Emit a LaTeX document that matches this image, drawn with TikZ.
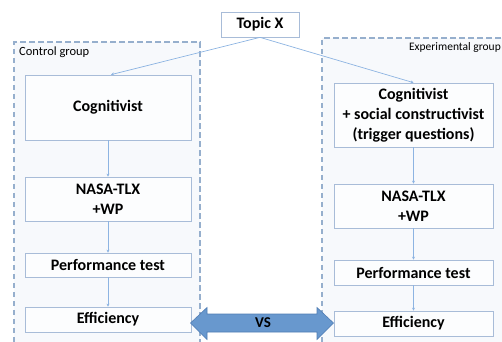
\documentclass[tikz,border=0pt]{standalone}
\usepackage{fontspec}
\setmainfont{Carlito}
\usetikzlibrary{arrows.meta}
\definecolor{grpline}{RGB}{150,175,205}
\definecolor{grpfill}{RGB}{247,249,252}
\definecolor{boxline}{RGB}{168,188,216}
\definecolor{conn}{RGB}{141,180,226}
\definecolor{arrfill}{RGB}{104,152,206}
\definecolor{arrline}{RGB}{80,125,180}
\tikzset{
  stage/.style={draw=boxline, fill=white, line width=0.7pt, inner sep=0pt, align=center,
    font=\bfseries\fontsize{16}{20}\selectfont},
  grp/.style={draw=grpline, fill=grpfill, line width=1.3pt, dash pattern=on 5.5pt off 3.5pt},
  link/.style={draw=conn, line width=0.7pt, -{Stealth[length=3pt,width=3pt]}},
  grplabel/.style={inner sep=0pt}
}
\begin{document}
\begin{tikzpicture}[x=1pt,y=-1pt]
\useasboundingbox (0,0) rectangle (502,341);
\clip (0,0) rectangle (502,341);
\fill[white] (0,0) rectangle (502,341);
% groups
\draw[grp] (14,360) -- (14,42) -- (200,42) -- (200,360);
\draw[grp] (322,360) -- (322,38) -- (520,38) -- (520,360);
\node[grplabel, anchor=west, font=\fontsize{12.5}{14}\selectfont] (cg) at (19,52) {Control group};
\node[grplabel, anchor=east, font=\fontsize{11.5}{13}\selectfont] (eg) at (501,47.5) {Experimental group};
% nodes
\node[stage, minimum width=78pt, minimum height=25pt] (topic) at (260,24.5) {Topic X};
\node[stage, fill=grpfill!40!white, minimum width=166pt, minimum height=65pt] (cogL) at (108,107.5) {Cognitivist};
\node[stage, fill=grpfill!40!white, minimum width=166pt, minimum height=44pt] (nasaL) at (108,199) {NASA-TLX\\+WP};
\node[stage, fill=grpfill!40!white, minimum width=166pt, minimum height=24pt] (perfL) at (108,265) {Performance test};
\node[stage, fill=grpfill!40!white, minimum width=166pt, minimum height=25pt] (effL) at (108,319.5) {Efficiency};
\node[stage, fill=grpfill!40!white, minimum width=159pt, minimum height=64pt] (cogR) at (413.5,115) {Cognitivist\\+ social constructivist\\(trigger questions)};
\node[stage, fill=grpfill!40!white, minimum width=159pt, minimum height=44pt] (nasaR) at (413.5,206) {NASA-TLX\\+WP};
\node[stage, fill=grpfill!40!white, minimum width=159pt, minimum height=25pt] (perfR) at (413.5,272.5) {Performance test};
\node[stage, fill=grpfill!40!white, minimum width=159pt, minimum height=25pt] (effR) at (413.5,323.5) {Efficiency};
% connectors
\draw[link] (topic.south) -- ([xshift=3pt]cogL.north);
\draw[link] (topic.south) -- (cogR.north);
\draw[link] (cogL) -- (nasaL);
\draw[link] (nasaL) -- (perfL);
\draw[link] (perfL) -- (effL);
\draw[link] (cogR) -- (nasaR);
\draw[link] (nasaR) -- (perfR);
\draw[link] (perfR) -- (effR);
% double arrow
\draw[fill=arrfill, draw=arrline, line width=0.6pt, line join=miter]
  (190.5,323) -- (207,307.5) -- (207,314) -- (317,314) -- (317,307.5) -- (333.5,323)
  -- (317,339.5) -- (317,332) -- (207,332) -- (207,339.5) -- cycle;
\node[font=\bfseries\fontsize{15}{18}\selectfont, inner sep=0pt] (vs) at (263,323) {VS};
\end{tikzpicture}
\end{document}
